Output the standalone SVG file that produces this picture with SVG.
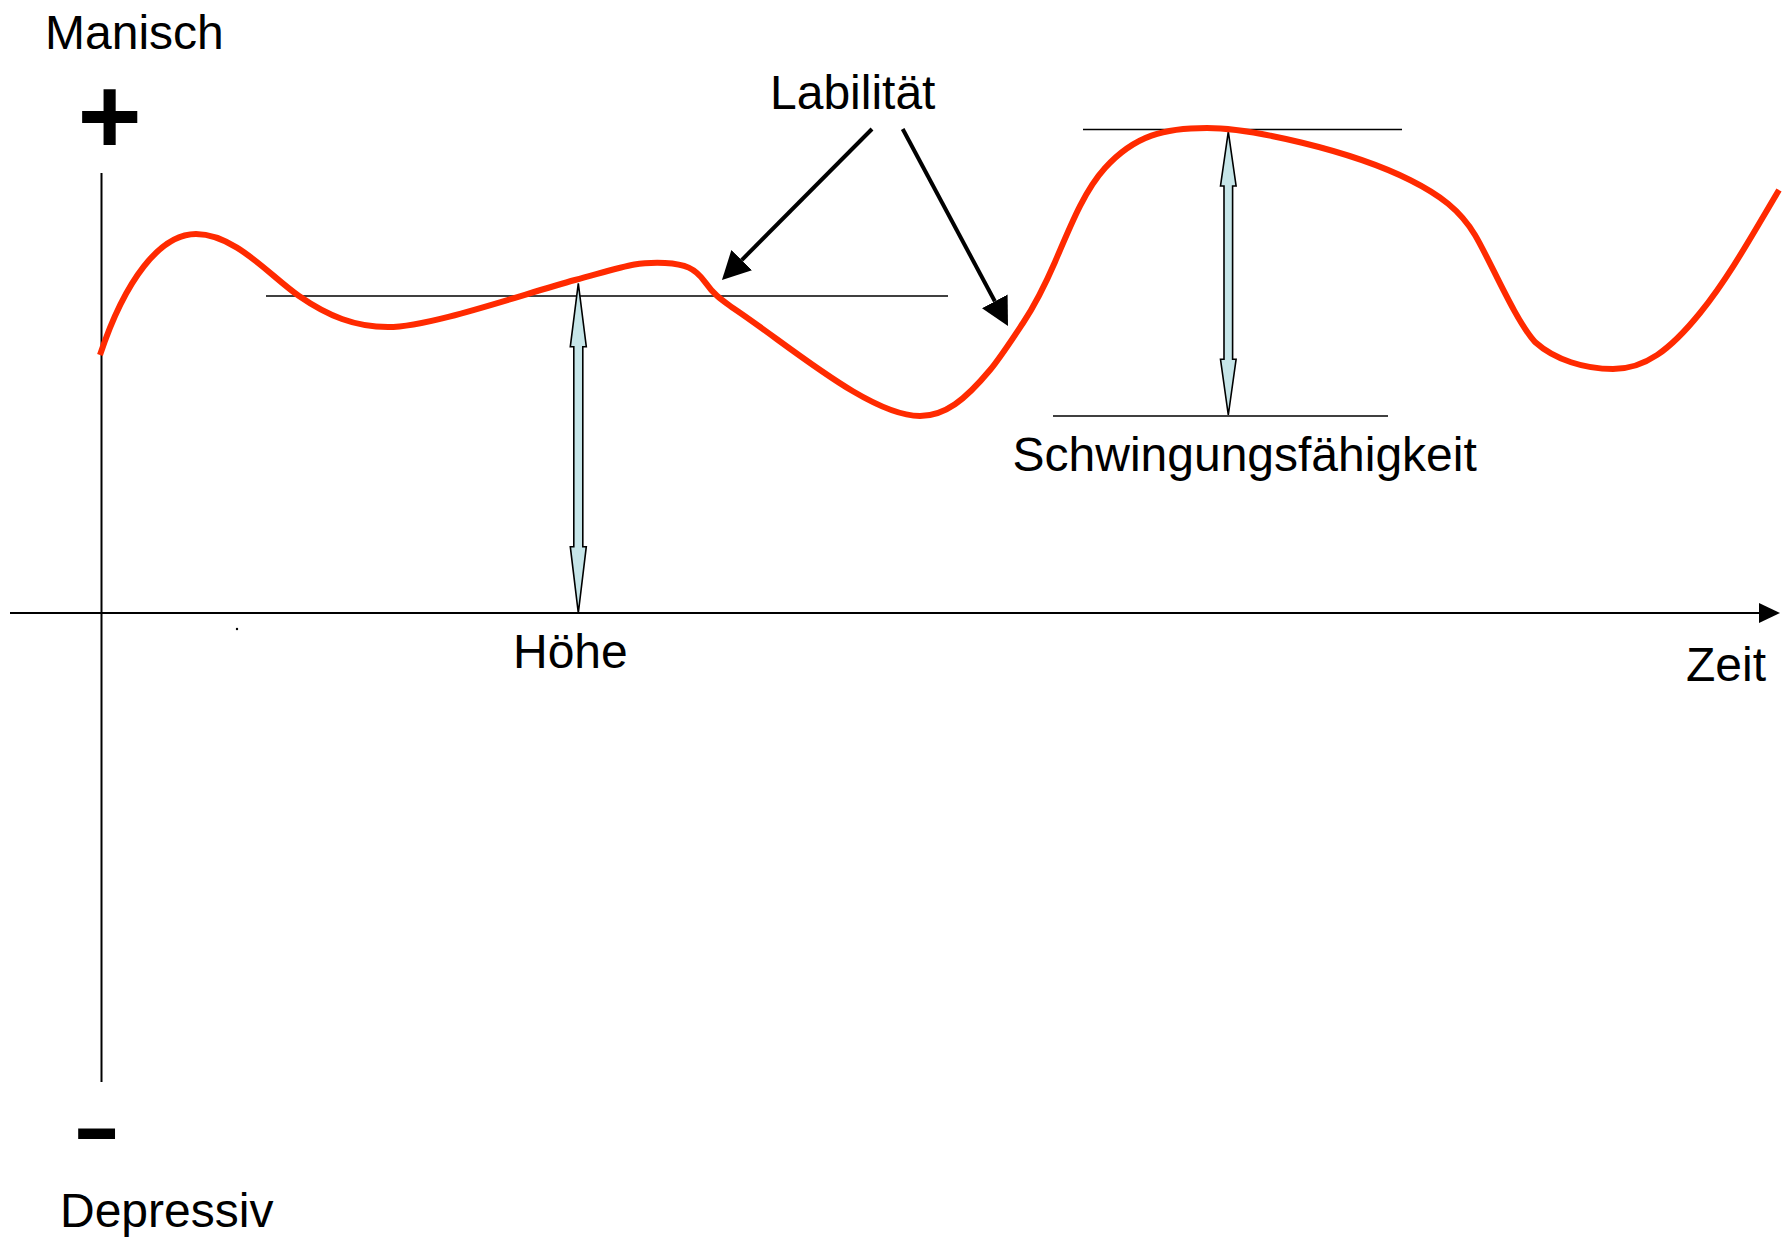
<svg xmlns="http://www.w3.org/2000/svg" width="1787" height="1247" viewBox="0 0 1787 1247">
<style>
.lbl{font-family:"Liberation Sans",Arial,sans-serif;font-size:48px;fill:#000}
.sign{font-family:"Liberation Sans",Arial,sans-serif;fill:#000;font-weight:bold}
.axis{stroke:#000;stroke-width:2;fill:none}
.ref{stroke:#000;stroke-width:1.6;fill:none}
.ptr{stroke:#000;stroke-width:4;fill:none}
.dbl{fill:#c6e5e8;stroke:#000;stroke-width:1.6;stroke-linejoin:miter}
.curve{fill:none;stroke:#ff2a00;stroke-width:6;stroke-linejoin:round}
</style>
<defs>
<marker id="head" markerUnits="userSpaceOnUse" markerWidth="30" markerHeight="30" refX="0" refY="14.5" orient="auto">
<path d="M0,0 L28,14.5 L0,29 z" fill="#000"/>
</marker>
<marker id="axhead" markerUnits="userSpaceOnUse" markerWidth="24" markerHeight="24" refX="0" refY="10" orient="auto">
<path d="M0,0 L21,10 L0,20 z" fill="#000"/>
</marker>
</defs>
<rect width="1787" height="1247" fill="#fff"/>
<g id="connectors">
<line class="axis" x1="101.5" y1="173" x2="101.5" y2="1082"/>
<line class="axis" x1="10" y1="613" x2="1759" y2="613" marker-end="url(#axhead)"/>
<line class="ref" x1="266" y1="296" x2="948" y2="296"/>
<line class="ref" x1="1083" y1="129.5" x2="1402" y2="129.5"/>
<line class="ref" x1="1053" y1="416" x2="1388" y2="416"/>
<line class="ptr" x1="872" y1="129" x2="741.7" y2="260.1" marker-end="url(#head)"/>
<line class="ptr" x1="902.7" y1="129" x2="994.8" y2="301.3" marker-end="url(#head)"/>
<polygon class="dbl" points="578.3,283.3 586.3,346.7 582.8,346.7 582.8,546.7 586.3,546.7 578.3,613 570.3,546.7 573.8,546.7 573.8,346.7 570.3,346.7"/>
<polygon class="dbl" points="1228.3,131.7 1236.1,186 1232.6,186 1232.6,359.3 1236.1,359.3 1228.3,415 1220.5,359.3 1224,359.3 1224,186 1220.5,186"/>
<circle cx="237" cy="629" r="1.2" fill="#000"/>
</g>
<g id="curve">
<path class="curve" d="M100,355 C125,280 160,234 196,234 C235,234 270,276 299,296 S355,327 388,327 C430,327 520,295 575,280 S635,262 665,263 C685,264 695,268 705,282 C715,296 722,300 733,308 C790,346 870,416 920,416 C945,416 965,400 990,370 C1000,358 1015,335 1023,323 C1035,305 1045,285 1055,262 C1072,222 1085,190 1105,168 C1135,135 1165,128 1207,128 C1250,128 1350,150 1410,180 C1440,195 1460,210 1475,235 C1490,260 1515,320 1535,342 C1555,360 1585,369 1613,369 C1645,369 1670,350 1700,313 C1730,276 1755,230 1779,190"/>
</g>
<g id="node-manisch"><text class="lbl" x="45" y="49">Manisch</text></g>
<g id="node-plus"><text class="sign" x="109.5" y="154" font-size="110" text-anchor="middle">+</text></g>
<g id="node-minus"><text class="sign" x="-4" y="1157" font-size="88" transform="translate(79,0) scale(1.65,1)">-</text></g>
<g id="node-depressiv"><text class="lbl" x="60" y="1227">Depressiv</text></g>
<g id="node-labilitaet"><text class="lbl" x="770" y="109">Labilität</text></g>
<g id="node-hoehe"><text class="lbl" x="513" y="668">Höhe</text></g>
<g id="node-zeit"><text class="lbl" x="1686" y="681">Zeit</text></g>
<g id="node-schwingung"><text class="lbl" x="1012.5" y="471">Schwingungsfähigkeit</text></g>
</svg>
